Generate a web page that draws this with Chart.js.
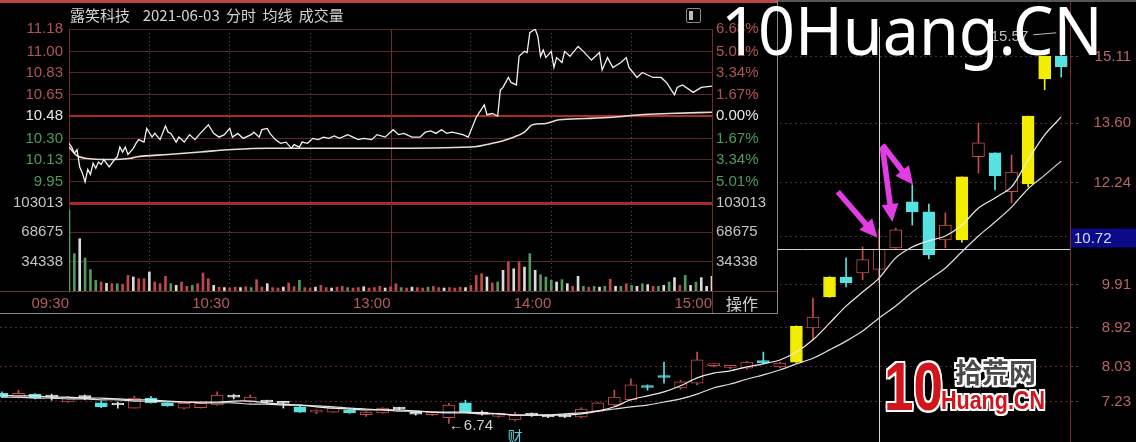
<!DOCTYPE html>
<html lang="zh">
<head>
<meta charset="utf-8">
<title>露笑科技 K线</title>
<script src="https://cdn.jsdelivr.net/npm/chart.js@4.4.1/dist/chart.umd.min.js"></script>
<style>
  html, body { margin: 0; padding: 0; background: #000; }
  #wrap { position: relative; width: 1136px; height: 442px; overflow: hidden; background: #000; font-family: "Liberation Sans", Arial, sans-serif; }
  canvas { position: absolute; display: block; }
  #kline { left: 0; top: 0; }
  #inset { position: absolute; left: 0; top: 0; width: 777px; height: 313px; background: #000; border-right: 1px solid #8a8a8a; border-bottom: 1px solid #8a8a8a; }
  #tick { left: 0; top: 0; }
  #vol { left: 0; top: 190px; }
  .topline { position: absolute; left: 0; top: 0; width: 777px; height: 3px; background: #c04444; }
  .topgray { position: absolute; left: 778px; top: 0; width: 358px; height: 2px; background: #555; }
  .rule { position: absolute; background: #6e3434; }
  .title { position: absolute; left: 70px; top: 5px; font: 15px "Noto Sans CJK SC", sans-serif; line-height: 20px; color: #d4d4d4; white-space: nowrap; word-spacing: 3px; }
  .icon { position: absolute; left: 686px; top: 8px; width: 13px; height: 13px; border: 1px solid #8a8a8a; border-radius: 2px; }
  .icon:after { content: ""; position: absolute; left: 2px; top: 2px; width: 4px; height: 9px; background: #bbb; }
  .op { position: absolute; left: 726px; top: 293px; font: 16px "Noto Sans CJK SC", sans-serif; line-height: 20px; color: #d0d0d0; }
  .wm { position: absolute; left: 721px; top: -5px; font: 68px "Noto Sans", sans-serif; line-height: 68px; color: #fff; white-space: nowrap; transform-origin: 0 0; transform: scaleX(0.95); }
  .lg { position: absolute; white-space: nowrap; transform-origin: 0 0;
        text-shadow: -2px 0 #fff, 2px 0 #fff, 0 -2px #fff, 0 2px #fff, -2px -2px #fff, 2px 2px #fff, -2px 2px #fff, 2px -2px #fff; }
  .lg10 { left: 884px; top: 352px; font: bold 68px "Liberation Sans", sans-serif; line-height: 68px; color: #d2151b; transform: scaleX(0.78); }
  .lgcn { left: 955px; top: 358px; font: bold 27px "Noto Sans CJK SC", sans-serif; line-height: 27px; color: #4a4a4a; }
  .lghu { left: 941px; top: 388px; font: bold 25px "Liberation Sans", sans-serif; line-height: 25px; color: #d2151b; transform: scaleX(0.86); }
</style>
</head>
<body>
<div id="wrap">
  <canvas id="kline" width="1136" height="442"></canvas>
  <div class="topgray"></div>
  <div id="inset">
    <canvas id="tick" width="778" height="204"></canvas>
    <canvas id="vol" width="778" height="124"></canvas>
    <div class="topline"></div>
    <div class="rule" style="left:0;top:291px;width:777px;height:1px"></div>
    <div class="rule" style="left:712px;top:291px;width:1px;height:22px"></div>
    <div class="title">露笑科技&nbsp;&nbsp;2021-06-03 分时 均线 成交量</div>
    <div class="icon"></div>
    <div class="op">操作</div>
  </div>
  <div class="wm">10Huang.CN</div>
  <div class="lg lg10">10</div>
  <div class="lg lgcn">拾荒网</div>
  <div class="lg lghu">Huang.CN</div>
</div>
<script>
// ---------- daily candles (65 sessions, #54 = 2021-06-03) ----------
const kOpen = [7.43,7.32,7.41,7.34,7.23,7.33,7.21,7.16,7.09,7.32,
  7.20,7.09,7.10,7.16,7.34,7.23,7.23,7.21,7.12,7.00,
  7.00,7.05,6.94,6.98,7.08,6.97,6.94,6.87,7.21,6.95,
  6.90,6.82,6.93,6.93,6.89,6.89,7.02,7.16,7.28,7.58,
  7.81,7.55,7.66,8.06,8.02,8.00,8.15,8.03,8.14,8.92,
  9.63,10.08,10.18,10.26,10.75,11.80,11.57,10.93,10.93,12.83,
  12.92,12.03,12.21,14.61,15.13];
const kHigh = [7.46,7.50,7.42,7.41,7.36,7.39,7.25,7.23,7.36,7.36,
  7.21,7.21,7.21,7.46,7.40,7.39,7.27,7.23,7.13,7.05,
  7.10,7.07,7.01,7.10,7.11,6.98,6.98,7.20,7.27,7.03,
  6.98,7.00,6.98,6.94,6.95,7.10,7.22,7.50,7.76,7.62,
  8.14,7.72,8.37,8.10,8.07,8.16,8.37,8.14,8.97,9.60,
  10.09,10.52,10.77,11.18,11.20,12.19,11.75,11.55,12.37,13.60,
  12.92,12.87,13.76,15.13,15.57];
const kLow = [7.33,7.32,7.30,7.27,7.22,7.28,7.10,7.09,7.09,7.20,
  7.13,7.07,7.09,7.15,7.30,7.22,7.20,7.09,6.99,6.96,
  6.99,6.97,6.90,6.97,7.05,6.93,6.92,6.74,6.99,6.93,
  6.88,6.80,6.90,6.87,6.87,6.87,7.00,7.15,7.27,7.50,
  7.66,7.52,7.62,8.03,7.99,7.98,8.10,8.01,8.12,8.65,
  9.62,9.86,10.02,9.95,10.74,11.27,10.50,10.75,10.88,12.46,
  12.07,11.78,12.14,14.36,14.65];
const kClose = [7.35,7.43,7.32,7.35,7.34,7.34,7.12,7.17,7.32,7.21,
  7.14,7.20,7.20,7.39,7.35,7.34,7.24,7.20,7.00,7.02,
  7.09,6.98,7.00,7.09,7.07,6.95,6.96,7.16,7.00,7.00,
  6.97,6.93,6.94,6.89,6.93,7.07,7.21,7.34,7.62,7.56,
  7.79,7.69,8.19,8.08,8.04,8.14,8.13,8.12,8.96,9.17,
  10.08,9.95,10.48,10.72,11.16,11.57,10.59,11.27,12.37,13.15,
  12.39,12.48,13.76,15.13,14.88];
// r = up (hollow red), c = down (cyan), y = limit up (yellow), w = flat (white)
const kKind = 'crcwrwcwrc' + 'crrrwrwwcr' + 'rcrrwwrrcw' + 'rrwwwrrrrc' + 'crrrrrcryr' + 'ycrrrccryr' + 'cryyc';
const ma5 = [7.39,7.37,7.37,7.34,7.34,7.32,7.32,7.30,7.28,7.28,
  7.25,7.23,7.23,7.23,7.25,7.25,7.21,7.18,7.16,7.12,
  7.09,7.07,7.05,7.05,7.05,7.02,7.00,7.00,7.00,6.98,
  6.96,6.93,6.93,6.93,6.93,6.96,7.02,7.12,7.28,7.37,
  7.46,7.60,7.78,7.89,7.94,8.03,8.10,8.19,8.37,8.65,
  9.03,9.42,9.74,10.06,10.52,10.77,10.91,11.02,11.27,11.66,
  11.89,12.14,12.76,13.33,13.74];
const ma10 = [7.34,7.34,7.32,7.32,7.30,7.30,7.28,7.28,7.25,7.25,
  7.23,7.23,7.21,7.21,7.21,7.18,7.18,7.16,7.16,7.14,
  7.12,7.09,7.07,7.05,7.02,7.02,7.00,6.98,6.98,6.96,
  6.96,6.93,6.93,6.93,6.96,6.98,7.02,7.07,7.12,7.16,
  7.23,7.30,7.41,7.55,7.64,7.75,7.85,7.96,8.10,8.23,
  8.42,8.62,8.85,9.15,9.42,9.74,10.02,10.29,10.66,11.02,
  11.34,11.68,12.10,12.41,12.73];
const kTicks = [7.23, 8.03, 8.92, 9.91, 11.01, 12.24, 13.60, 15.11];
const crossIndex = 53, crossPrice = 10.72;
const arrowMarks = [
  { from: [50.5, 12.03], to: [52.9, 10.98] },
  { from: [53.2, 13.05], to: [53.8, 11.34] },
  { from: [53.2, 13.10], to: [55.05, 12.19] }
];

// ---------- intraday 2021-06-03 (minutes from 09:30, lunch removed) ----------
const prevClose = 10.48;
const tMin = [0,1,2,3,4,5,6,7,8,9, 10,11,12,13,15,17,18,19,20,21,
  22,24,25,26,28,29,31,32,34,36, 37,38,40,41,43,45,47,49,52,54,
  56,58,60,61,63,65,68,69,71,72, 74,75,77,79,81,83,84,86,87,89,
  91,93,95,97,99,101,104,106,108,110, 113,115,118,121,123,125,128,131,133,135,
  137,139,141,143,147,149,152,155,156,158, 160,161,162,164,165,167,168,170,171,172,
  174,175,176,177,178,180,181,182,184,185, 187,190,192,195,198,199,201,203,206,208,
  209,212,214,218,221,223,226,227,229,233, 236,240];
const tPrice = [10.26,10.23,10.18,10.21,10.07,10.02,9.95,10.05,10.01,10.10,
  10.06,10.11,10.09,10.13,10.07,10.13,10.15,10.23,10.19,10.23,
  10.17,10.22,10.26,10.29,10.27,10.38,10.31,10.34,10.29,10.40,
  10.35,10.34,10.27,10.31,10.27,10.33,10.29,10.34,10.41,10.34,
  10.31,10.33,10.38,10.31,10.34,10.30,10.33,10.35,10.31,10.37,
  10.38,10.34,10.29,10.26,10.27,10.22,10.25,10.23,10.27,10.26,
  10.30,10.29,10.31,10.30,10.32,10.30,10.33,10.31,10.29,10.30,
  10.29,10.33,10.31,10.37,10.33,10.34,10.31,10.31,10.35,10.36,
  10.34,10.37,10.34,10.35,10.33,10.31,10.47,10.57,10.49,10.50,
  10.48,10.69,10.71,10.79,10.75,10.73,10.96,11.00,10.99,11.15,
  11.18,11.12,10.96,11.01,10.95,11.00,10.87,10.95,10.91,11.00,
  10.96,11.04,11.00,10.93,10.99,10.85,10.95,10.87,10.91,10.95,
  10.87,10.79,10.83,10.79,10.79,10.75,10.65,10.71,10.73,10.67,
  10.71,10.72];
const avgMin = [0,3,6,15,23,25,37,49,61,74,86,116,150,158,166,170,173,178,183,193,203,213,224,240];
const avgPrice = [10.23,10.16,10.14,10.13,10.14,10.15,10.17,10.19,10.21,10.22,10.22,10.22,10.23,10.26,10.31,10.35,10.41,10.42,10.45,10.46,10.47,10.49,10.50,10.51];
// volume per 2-minute bucket, 09:30 .. 15:00
const vol = [94700,43700,61200,38600,25000,12500,10500,9000,8500,8500,
  8000,18300,16400,14400,14400,22200,10500,8600,17200,8600,
  6600,10500,5500,6600,8600,21100,14400,6600,4500,4000,
  3500,4500,4000,5000,4000,13300,4500,8600,4000,3500,
  4500,9400,5000,12500,4000,3500,4500,6600,4000,3500,
  4500,5500,4000,3500,4000,5000,3500,4000,5500,3500,
  5000,8600,4000,3500,4500,4000,3500,4500,5500,4000,
  3500,4000,3500,4500,4000,6600,18300,20300,16400,9400,
  10500,24200,34000,26000,34000,28000,43700,24200,19100,16400,
  12500,10500,13300,8600,5500,17200,5500,4500,5500,4500,
  5500,13700,5500,5500,8600,6600,5500,8600,7500,5500,
  5500,6600,10500,15600,6600,18300,6600,10500,15600,5500,
  17200];
const volDir = 'ggwgggrwrg' + 'rrwrrwrrrg' + 'wrrgrrrwrw' + 'rrwrgrrwrr' + 'wrrgrrwrrw' + 'rrgrrwrrrw' +
  'rrgrwrrgrr' + 'wrrrwrrrwr' + 'gwrwrwgwgg' + 'gwgwrwgrgw' + 'grwgrgwgwr' + 'gwgwrgwgww' + 'w';
const priceTicks = [11.18, 11.00, 10.83, 10.65, 10.48, 10.30, 10.13, 9.95];
const pctLabels = ['6.68%', '5.01%', '3.34%', '1.67%', '0.00%', '1.67%', '3.34%', '5.01%'];
const volTicks = [103013, 68675, 34338];
const gridMin = [0, 30, 60, 90, 120, 150, 180, 210, 240];
const timeMin = [0, 60, 120, 180, 240];
const timeLabels = ['09:30', '10:30', '13:00', '14:00', '15:00'];

Chart.defaults.font.family = '"Liberation Sans", Arial, sans-serif';
Chart.defaults.font.size = 15;
Chart.defaults.animation = false;
Chart.defaults.plugins.legend.display = false;
Chart.defaults.plugins.tooltip.enabled = false;

// ---------- main K-line chart ----------
const kLine = { r: '#c94b4b', c: '#58e1e1', y: '#f3ee00', w: '#e4e4e4' };
const kFill = { r: '#000000', c: '#58e1e1', y: '#f3ee00', w: '#e4e4e4' };
const idx = kOpen.map((_, i) => i);

function drawArrow(ctx, x1, y1, x2, y2) {
  const ang = Math.atan2(y2 - y1, x2 - x1);
  const len = Math.hypot(x2 - x1, y2 - y1);
  const head = 18, hw = 8.5, sw = 2.8;
  ctx.save();
  ctx.translate(x1, y1);
  ctx.rotate(ang);
  ctx.beginPath();
  ctx.moveTo(0, -sw);
  ctx.lineTo(len - head, -sw);
  ctx.lineTo(len - head, -hw);
  ctx.lineTo(len, 0);
  ctx.lineTo(len - head, hw);
  ctx.lineTo(len - head, sw);
  ctx.lineTo(0, sw);
  ctx.closePath();
  ctx.fill();
  ctx.restore();
}

const marks = {
  id: 'marks',
  afterDatasetsDraw(chart) {
    const { ctx, chartArea: a, scales: { x, y } } = chart;
    ctx.save();
    // crosshair
    const cx = Math.round(x.getPixelForValue(crossIndex)) + 0.5;
    const cy = Math.round(y.getPixelForValue(crossPrice)) + 0.5;
    ctx.strokeStyle = '#d4d4d4';
    ctx.lineWidth = 1;
    ctx.beginPath();
    ctx.moveTo(cx, a.top + 27); ctx.lineTo(cx, a.bottom);
    ctx.moveTo(a.left, cy); ctx.lineTo(a.right, cy);
    ctx.stroke();
    // magenta arrows
    ctx.fillStyle = '#e23de2';
    arrowMarks.forEach(m => drawArrow(ctx,
      x.getPixelForValue(m.from[0]), y.getPixelForValue(m.from[1]),
      x.getPixelForValue(m.to[0]), y.getPixelForValue(m.to[1])));
    // low marker
    ctx.font = '15px "Liberation Sans", "DejaVu Sans", sans-serif';
    ctx.fillStyle = '#cfcfcf';
    ctx.textBaseline = 'middle';
    ctx.textAlign = 'left';
    ctx.fillText('←6.74', x.getPixelForValue(27), y.getPixelForValue(6.74) + 2);
    // high marker
    const hx = x.getPixelForValue(64), hy = y.getPixelForValue(kHigh[64]);
    ctx.textAlign = 'right';
    ctx.fillStyle = '#bdbdbd';
    ctx.fillText(kHigh[64].toFixed(2), hx - 33, hy);
    ctx.strokeStyle = '#bdbdbd';
    ctx.beginPath(); ctx.moveTo(hx - 28, hy - 2); ctx.lineTo(hx - 5, hy - 4); ctx.stroke();
    // 财 tag
    ctx.font = '15px "Noto Sans CJK SC", sans-serif';
    ctx.fillStyle = '#62c9e2';
    ctx.textAlign = 'center';
    ctx.fillText('财', x.getPixelForValue(31), y.getPixelForValue(kLow[31]) + 15);
    // crosshair price box
    ctx.fillStyle = '#0b0b8a';
    ctx.fillRect(a.right + 1, cy - 21, chart.width - a.right - 1, 19);
    ctx.fillStyle = '#dcdcf5';
    ctx.textAlign = 'left';
    ctx.font = '15px "Liberation Sans", sans-serif';
    ctx.fillText(crossPrice.toFixed(2), a.right + 4, cy - 11);
    ctx.restore();
  }
};

new Chart(document.getElementById('kline'), {
  type: 'bar',
  data: {
    datasets: [
      { type: 'line', data: ma5.map((v, i) => ({ x: i, y: v })), borderColor: '#ececec', borderWidth: 1.2, pointRadius: 0, tension: 0.3, order: 0 },
      { type: 'line', data: ma10.map((v, i) => ({ x: i, y: v })), borderColor: '#dedede', borderWidth: 1.2, pointRadius: 0, tension: 0.3, order: 0 },
      { data: idx.map(i => ({ x: i, y: [kOpen[i], kClose[i]] })),
        backgroundColor: c => kFill[kKind[c.dataIndex]], borderColor: c => kLine[kKind[c.dataIndex]],
        borderWidth: 1, borderSkipped: false, barThickness: 12, minBarLength: 2, grouped: false, order: 1 },
      { data: idx.map(i => ({ x: i, y: [kLow[i], kHigh[i]] })),
        backgroundColor: c => kLine[kKind[c.dataIndex]], barThickness: 1, grouped: false, order: 2 }
    ]
  },
  options: {
    responsive: false,
    layout: { padding: { left: 0, right: 5, top: 0, bottom: 0 } },
    scales: {
      x: { type: 'linear', min: -0.12, max: 64.53, offset: false, display: false },
      y: {
        position: 'right', min: 6.316, max: 16.41,
        afterBuildTicks: s => { s.ticks = kTicks.map(v => ({ value: v })); },
        afterFit: s => { s.width = 61; s.paddingTop = 0; s.paddingBottom = 0; },
        ticks: { color: '#b86464', padding: 15, crossAlign: 'far', callback: v => v.toFixed(2) },
        grid: { color: 'rgba(150,70,70,0.6)', tickLength: 8, tickColor: 'rgba(150,70,70,0.8)', tickBorderDash: [2, 3] },
        border: { color: '#7a2a2a', dash: [2, 3] }
      }
    }
  },
  plugins: [marks]
});

// ---------- intraday inset ----------
const upC = '#b35454', downC = '#4f9a5c', flatC = '#e8e8e8';
const priceColor = v => v > prevClose + 0.001 ? upC : (v < prevClose - 0.001 ? downC : flatC);
const vGrid = c => (c.tick && (c.tick.value % 120 === 0)) ? 'rgba(0,0,0,0)' : 'rgba(165,165,165,0.5)';
const sessionLine = {
  id: 'sessionLine',
  beforeDatasetsDraw(chart) {
    const { ctx, chartArea: a, scales: { x } } = chart;
    const px = Math.round(x.getPixelForValue(120)) + 0.5;
    ctx.save();
    ctx.strokeStyle = '#7a2a2a';
    ctx.lineWidth = 1;
    ctx.beginPath(); ctx.moveTo(px, a.top); ctx.lineTo(px, a.bottom); ctx.stroke();
    ctx.restore();
  }
};

new Chart(document.getElementById('tick'), {
  type: 'line',
  data: {
    datasets: [
      { data: tMin.map((m, i) => ({ x: m, y: tPrice[i] })), borderColor: '#f2f2f2', borderWidth: 1.3, pointRadius: 0, tension: 0 },
      { data: avgMin.map((m, i) => ({ x: m, y: avgPrice[i] })), borderColor: '#e6ddd6', borderWidth: 1.6, pointRadius: 0, cubicInterpolationMode: 'monotone' }
    ]
  },
  options: {
    responsive: false,
    layout: { padding: { top: 29, bottom: 1, left: 0, right: 0 } },
    scales: {
      x: {
        type: 'linear', min: 0, max: 240, offset: false,
        afterBuildTicks: s => { s.ticks = gridMin.map(v => ({ value: v })); },
        afterFit: s => { s.height = 0; s.paddingLeft = 0; s.paddingRight = 0; },
        ticks: { display: false },
        grid: { color: vGrid, drawTicks: false, offset: false },
        border: { display: false, dash: [1, 3] }
      },
      y: {
        position: 'left', min: 9.78, max: 11.18,
        afterBuildTicks: s => { s.ticks = priceTicks.map(v => ({ value: v })); },
        afterFit: s => { s.width = 69; s.paddingTop = 0; s.paddingBottom = 0; },
        ticks: { color: c => priceColor(c.tick.value), padding: 6, callback: v => v.toFixed(2) },
        grid: { color: c => (c.tick && c.tick.value === prevClose) ? '#b02a2a' : '#5c2626', lineWidth: c => (c.tick && c.tick.value === prevClose) ? 2 : 1, drawTicks: false },
        border: { color: '#7a2a2a' }
      },
      yr: {
        position: 'right', min: 9.78, max: 11.18,
        afterBuildTicks: s => { s.ticks = priceTicks.map(v => ({ value: v })); },
        afterFit: s => { s.width = 66; s.paddingTop = 0; s.paddingBottom = 0; },
        ticks: { color: c => priceColor(c.tick.value), padding: 4, callback: v => pctLabels[priceTicks.indexOf(v)] },
        grid: { display: false, drawTicks: false },
        border: { color: '#7a2a2a' }
      }
    }
  },
  plugins: [sessionLine]
});

const volColor = { r: '#c04848', g: '#4f9a5c', w: '#dadada' };
new Chart(document.getElementById('vol'), {
  type: 'bar',
  data: {
    datasets: [{ data: vol.map((v, i) => ({ x: i * 2, y: v })), backgroundColor: c => volColor[volDir[c.dataIndex]], barThickness: 2, grouped: false }]
  },
  options: {
    responsive: false,
    layout: { padding: { top: 13, bottom: 0, left: 0, right: 0 } },
    scales: {
      x: {
        type: 'linear', min: 0, max: 240, offset: false,
        afterBuildTicks: s => { s.ticks = gridMin.map(v => ({ value: v })); },
        afterFit: s => { s.height = 23; s.paddingLeft = 0; s.paddingRight = 0; },
        ticks: { color: '#b85c5c', padding: 4, align: 'end', autoSkip: false, maxRotation: 0,
                 callback: v => timeMin.includes(v) ? timeLabels[timeMin.indexOf(v)] : '' },
        grid: { color: vGrid, drawTicks: false, offset: false },
        border: { color: '#6e3434', dash: [1, 3] }
      },
      y: {
        position: 'left', min: 0, max: 103013,
        afterBuildTicks: s => { s.ticks = volTicks.map(v => ({ value: v })); },
        afterFit: s => { s.width = 69; s.paddingTop = 0; s.paddingBottom = 0; },
        ticks: { color: '#c4c4c4', padding: 6, callback: v => String(v) },
        grid: { color: c => (c.tick && c.tick.value === volTicks[0]) ? '#a82a2a' : '#5c2626', lineWidth: c => (c.tick && c.tick.value === volTicks[0]) ? 3 : 1, drawTicks: false },
        border: { color: '#7a2a2a' }
      },
      yr: {
        position: 'right', min: 0, max: 103013,
        afterBuildTicks: s => { s.ticks = volTicks.map(v => ({ value: v })); },
        afterFit: s => { s.width = 66; s.paddingTop = 0; s.paddingBottom = 0; },
        ticks: { color: '#c4c4c4', padding: 4, callback: v => String(v) },
        grid: { display: false, drawTicks: false },
        border: { color: '#7a2a2a' }
      }
    }
  },
  plugins: [sessionLine]
});
</script>
</body>
</html>
